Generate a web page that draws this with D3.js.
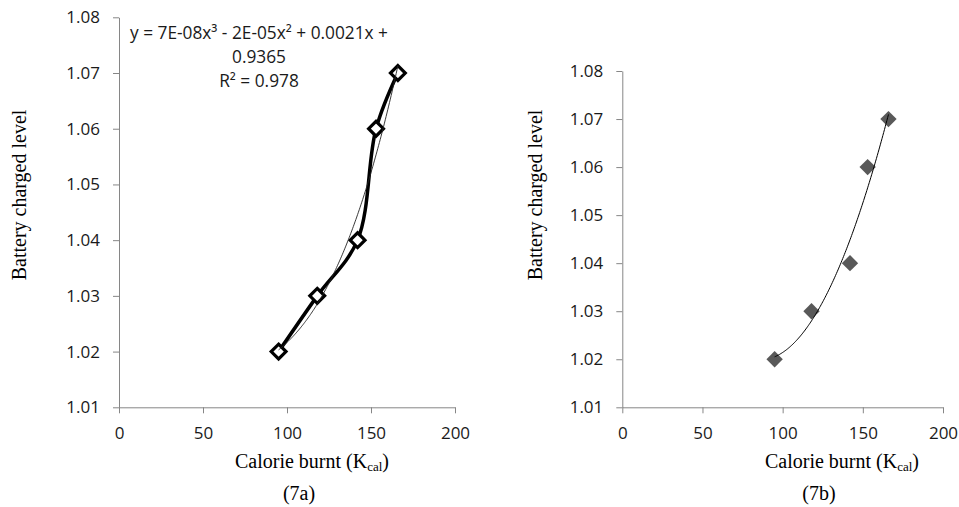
<html>
  <head>
    <meta charset="utf-8">
    <title>Battery charged level vs calorie burnt</title>
    <script src="https://d3js.org/d3.v7.min.js"></script>
    <style>
      body { margin: 0; background: #fff; }
      .tick text { font-family: "Open Sans", sans-serif; font-size: 17px; fill: #1a1a1a; }
      .tick line, .domain { stroke: #868686; stroke-width: 1; }
      .title { font-family: "Liberation Serif", "Times New Roman", serif; font-size: 20px; fill: #000; }
      .eq { font-family: "Open Sans", sans-serif; font-size: 17.3px; fill: #1a1a1a; }
    </style>
  </head>
  <body>
    <svg id="chart" width="959" height="507"></svg>

    <script>
      // values
      const calories = [95, 118, 142, 153, 166];
      const charged = [1.02, 1.03, 1.04, 1.06, 1.07];
      const xTicks = [0, 50, 100, 150, 200];
      const yTicks = [1.01, 1.02, 1.03, 1.04, 1.05, 1.06, 1.07, 1.08];
      const equationLines = ["y = 7E-08x\u00b3 - 2E-05x\u00b2 + 0.0021x +", "0.9365", "R\u00b2 = 0.978"];

      const svg = d3.select("svg#chart");
      const points = calories.map((c, i) => ({ x: c, y: charged[i] }));

      // least squares polynomial, x centred for stability
      function polyFit(xs, ys, order) {
        const mx = d3.mean(xs);
        const n = order + 1;
        let A = [];
        for (let r = 0; r < n; r++) {
          let row = [];
          for (let c = 0; c < n; c++) row.push(d3.sum(xs, x => Math.pow(x - mx, r + c)));
          row.push(d3.sum(xs, (x, i) => ys[i] * Math.pow(x - mx, r)));
          A.push(row);
        }
        for (let i = 0; i < n; i++) {
          for (let k = i + 1; k < n; k++) {
            let f = A[k][i] / A[i][i];
            for (let j = i; j <= n; j++) A[k][j] -= f * A[i][j];
          }
        }
        let coef = new Array(n).fill(0);
        for (let i = n - 1; i >= 0; i--) {
          let s = A[i][n];
          for (let j = i + 1; j < n; j++) s -= A[i][j] * coef[j];
          coef[i] = s / A[i][i];
        }
        return x => coef.reduce((acc, c, p) => acc + c * Math.pow(x - mx, p), 0);
      }

      function trendPoints(fn) {
        const [lo, hi] = d3.extent(calories);
        return d3.range(lo, hi + 0.5, 0.5).map(x => ({ x: x, y: fn(x) }));
      }

      function drawPanel(box) {
        const x = d3.scaleLinear().domain([0, 200]).range([box.left, box.right]);
        const y = d3.scaleLinear().domain([1.01, 1.08]).range([box.bottom, box.top]);
        const g = svg.append("g");

        g.append("g")
          .attr("transform", "translate(0," + box.bottom + ")")
          .call(d3.axisBottom(x).tickValues(xTicks).tickSize(6).tickSizeOuter(0).tickPadding(14))
          .call(a => a.selectAll("text").attr("dy", "0.71em"));

        g.append("g")
          .attr("transform", "translate(" + box.left + ",0)")
          .call(d3.axisLeft(y).tickValues(yTicks).tickFormat(d3.format(".2f")).tickSize(6).tickSizeOuter(0).tickPadding(13));

        // y title
        g.append("text")
          .attr("class", "title")
          .attr("text-anchor", "middle")
          .attr("transform", "translate(" + box.yTitleX + ",195) rotate(-90)")
          .text("Battery charged level");

        // x title with subscript
        let xt = g.append("text")
          .attr("class", "title")
          .attr("text-anchor", "middle")
          .attr("x", box.xTitleX)
          .attr("y", 468);
        xt.append("tspan").text("Calorie burnt (K");
        xt.append("tspan").attr("font-size", "13px").attr("dy", 3).text("cal");
        xt.append("tspan").attr("dy", -3).text(")");

        g.append("text")
          .attr("class", "title")
          .attr("text-anchor", "middle")
          .attr("x", box.captionX)
          .attr("y", 500)
          .text(box.caption);

        return { g: g, x: x, y: y };
      }

      const diamond = d3.symbol().type(d3.symbolDiamond2);

      // ---- panel 7a ----
      let pa = drawPanel({ left: 119, right: 455, top: 17.3, bottom: 407.3,
                           yTitleX: 26, xTitleX: 312, captionX: 299, caption: "(7a)" });

      pa.g.append("path").datum(points)
        .attr("fill", "none")
        .attr("stroke", "#000")
        .attr("stroke-width", 3.5)
        .attr("d", d3.line().x(d => pa.x(d.x)).y(d => pa.y(d.y)).curve(d3.curveCatmullRom));

      pa.g.selectAll("path.marker").data(points)
        .join("path")
        .attr("class", "marker")
        .attr("transform", d => "translate(" + pa.x(d.x) + "," + pa.y(d.y) + ")")
        .attr("d", diamond.size(140))
        .attr("fill", "#fff")
        .attr("stroke", "#000")
        .attr("stroke-width", 3.2);

      let cubic = polyFit(calories, charged, 3);
      pa.g.append("path").datum(trendPoints(cubic))
        .attr("fill", "none")
        .attr("stroke", "#222")
        .attr("stroke-width", 0.9)
        .attr("d", d3.line().x(d => pa.x(d.x)).y(d => pa.y(d.y)));

      pa.g.selectAll("text.eq").data(equationLines)
        .join("text")
        .attr("class", "eq")
        .attr("text-anchor", "middle")
        .attr("x", 259)
        .attr("y", (d, i) => 39 + i * 24)
        .text(d => d);

      // ---- panel 7b ----
      let pb = drawPanel({ left: 622.3, right: 943, top: 71, bottom: 407.3,
                           yTitleX: 542, xTitleX: 842, captionX: 819, caption: "(7b)" });

      pb.g.selectAll("path.marker").data(points)
        .join("path")
        .attr("class", "marker")
        .attr("transform", d => "translate(" + pb.x(d.x) + "," + pb.y(d.y) + ")")
        .attr("d", diamond.size(170))
        .attr("fill", "#595959");

      let quad = polyFit(calories, charged, 2);
      pb.g.append("path").datum(trendPoints(quad))
        .attr("fill", "none")
        .attr("stroke", "#000")
        .attr("stroke-width", 1)
        .attr("d", d3.line().x(d => pb.x(d.x)).y(d => pb.y(d.y)));
    </script>
  </body>
</html>
